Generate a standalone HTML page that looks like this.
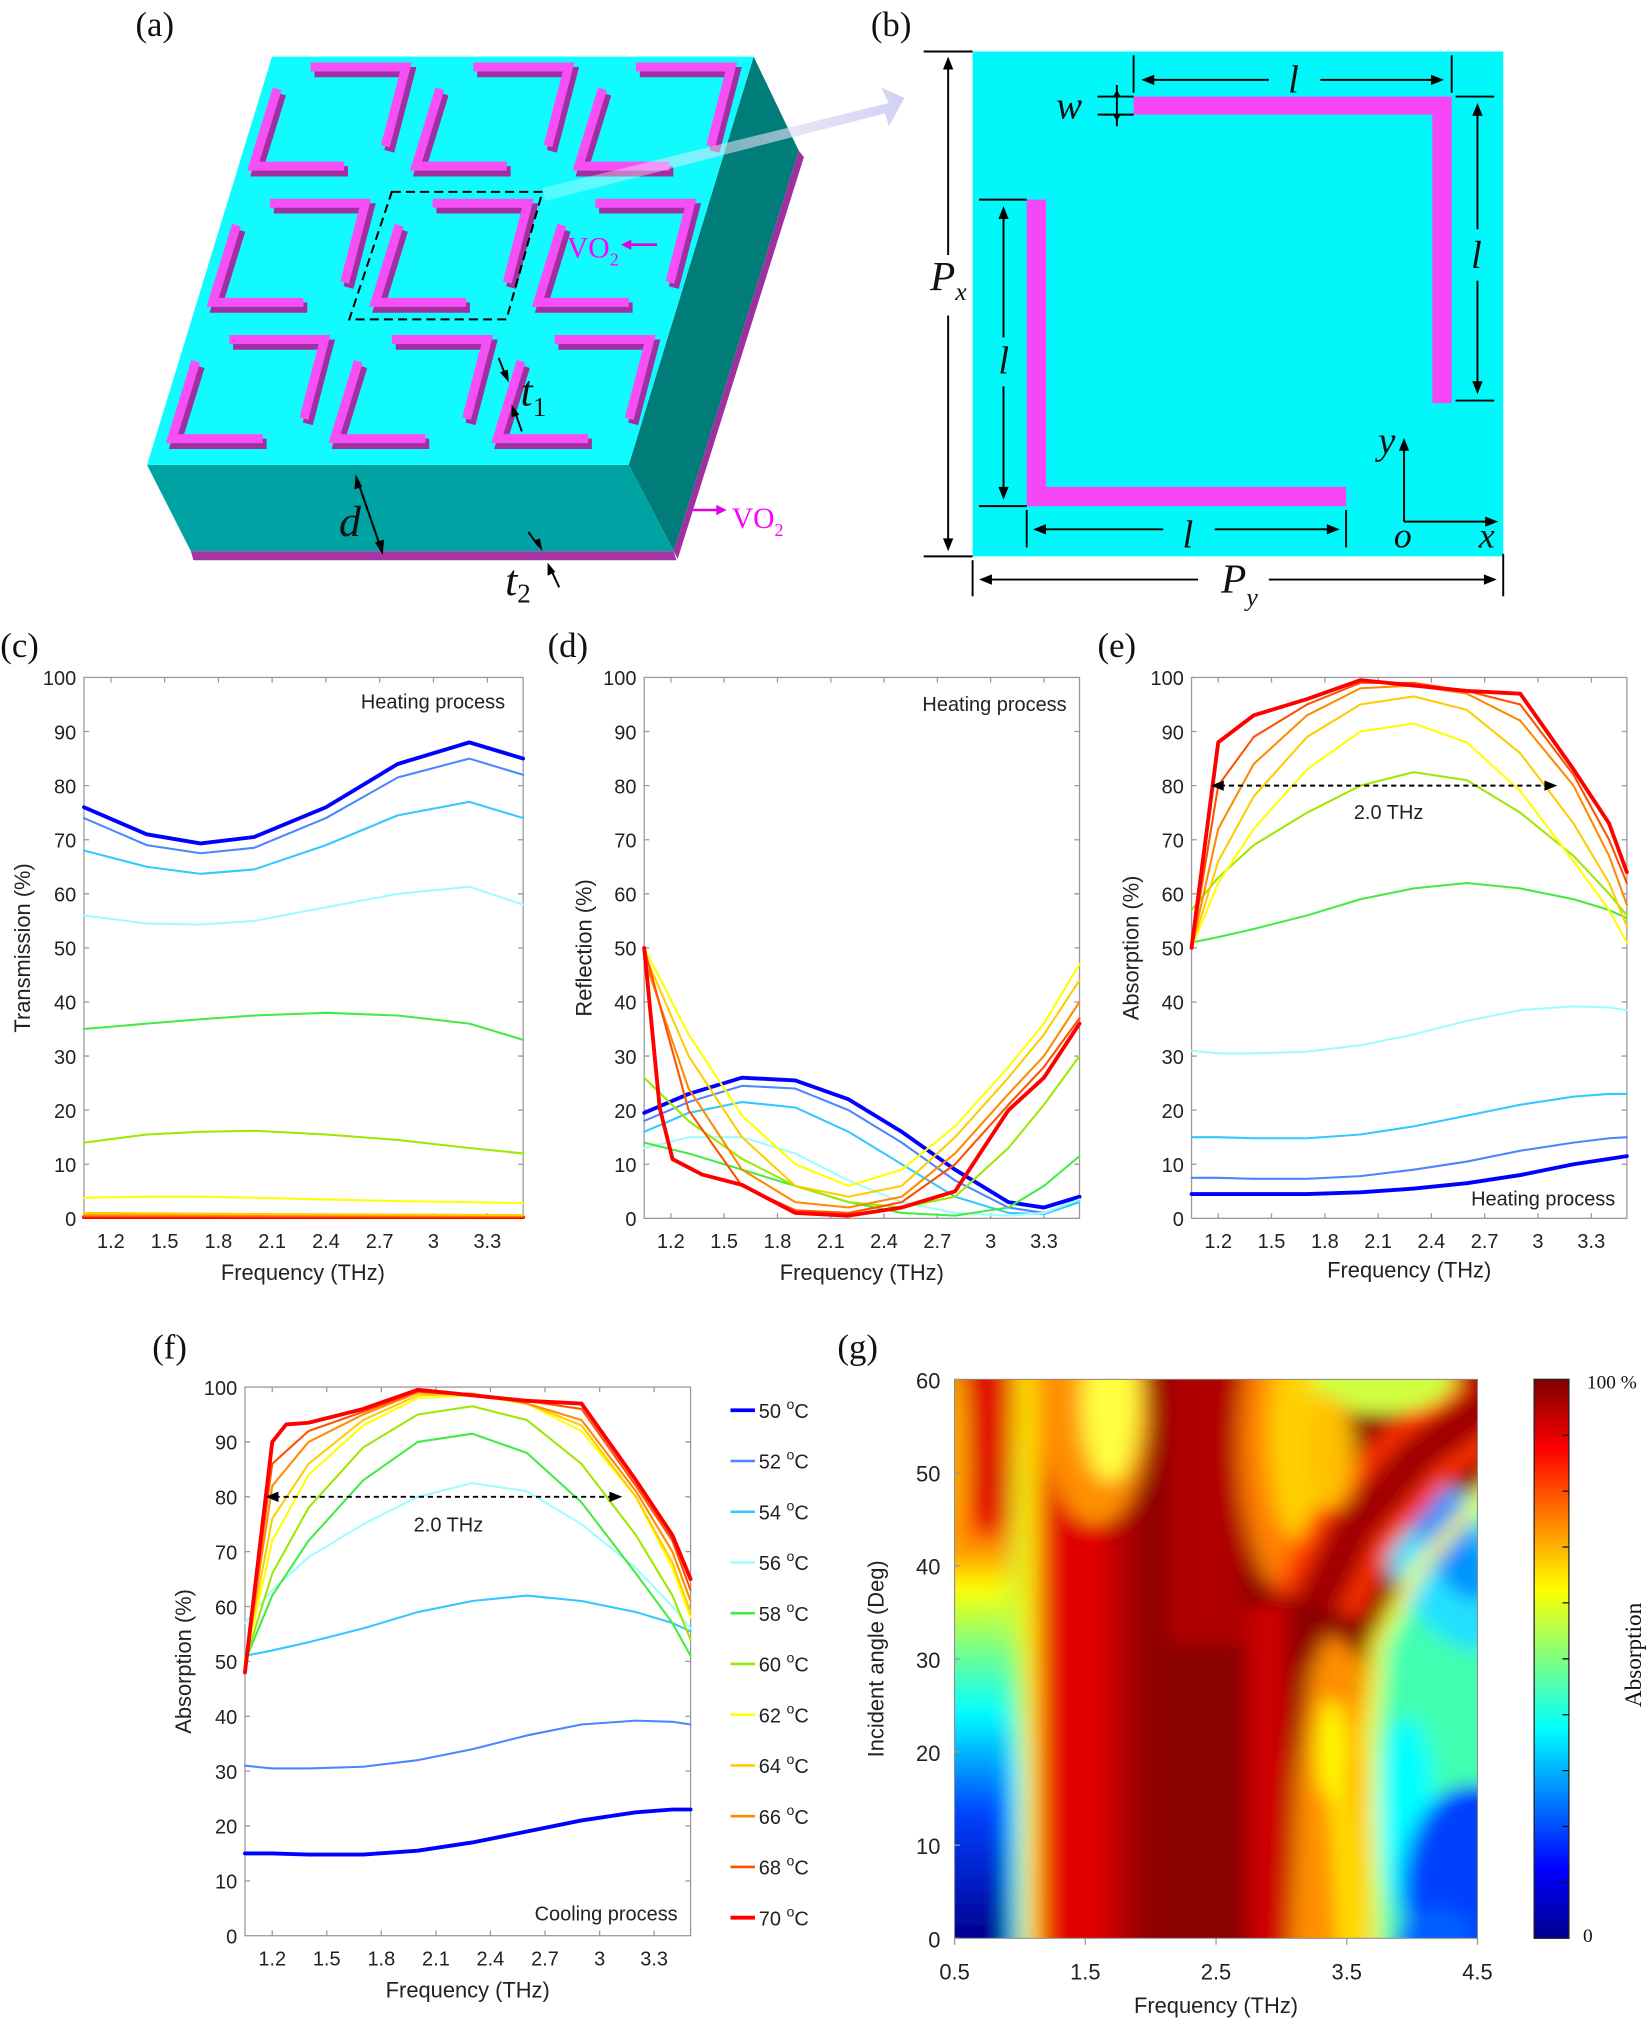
<!DOCTYPE html>
<html><head><meta charset="utf-8"><style>
html,body{margin:0;padding:0;background:#fff}
svg{display:block}
.t{font-family:"Liberation Sans",sans-serif;font-size:15.5px;fill:#222}
.lab{font-family:"Liberation Sans",sans-serif;font-size:17px;fill:#222}
.pl{font-family:"Liberation Serif",serif;font-size:27px;fill:#111}
.it{font-family:"Liberation Serif",serif;font-style:italic;fill:#111}
.ax{fill:#fff;stroke:#999;stroke-width:1}
.tk{stroke:#999;stroke-width:1;fill:none}
.ln{fill:none;stroke-linejoin:round;stroke-linecap:round}
</style></head><body>
<svg xmlns="http://www.w3.org/2000/svg" xmlns:xlink="http://www.w3.org/1999/xlink" width="1649" height="2022" viewBox="0 0 1280 1570">
<defs>
<linearGradient id="jet" x1="0" y1="1" x2="0" y2="0">
<stop offset="0" stop-color="#00008f"/><stop offset="0.125" stop-color="#0000ff"/><stop offset="0.375" stop-color="#00ffff"/><stop offset="0.625" stop-color="#ffff00"/><stop offset="0.875" stop-color="#ff0000"/><stop offset="1" stop-color="#800000"/>
</linearGradient>
<linearGradient id="leftcol" gradientUnits="userSpaceOnUse" x1="0" y1="45" x2="0" y2="1520">
<stop offset="0" stop-color="#d00000"/><stop offset="0.24" stop-color="#ff3000"/><stop offset="0.32" stop-color="#ffa000"/><stop offset="0.38" stop-color="#ffff00"/><stop offset="0.48" stop-color="#80ff80"/><stop offset="0.6" stop-color="#00ffff"/><stop offset="0.78" stop-color="#0040ff"/><stop offset="1" stop-color="#00008f"/>
</linearGradient>
<linearGradient id="strip" gradientUnits="userSpaceOnUse" x1="0" y1="45" x2="0" y2="1520">
<stop offset="0" stop-color="#ffb000"/><stop offset="0.45" stop-color="#c0ff40"/><stop offset="0.7" stop-color="#00ffff"/><stop offset="1" stop-color="#00e0ff"/>
</linearGradient>
<linearGradient id="arr" x1="0" y1="0" x2="1" y2="0">
<stop offset="0" stop-color="#ffffff" stop-opacity="0.3"/><stop offset="1" stop-color="#c8c8f0"/>
</linearGradient>
<filter id="bl" filterUnits="userSpaceOnUse" x="-300" y="-300" width="1900" height="2300"><feGaussianBlur stdDeviation="22"/></filter>
<clipPath id="hc"><rect x="115" y="60" width="1093" height="1460"/></clipPath>
<g id="L">
<path d="M241,52 L315,52 L299,113.5 M215,69 L196.5,129 L267,129" fill="none" stroke="#a030a0" stroke-width="8" transform="translate(3,4)"/>
<path d="M241,52 L315,52 L299,113.5 M215,69 L196.5,129 L267,129" fill="none" stroke="#f64ff6" stroke-width="7"/>
</g>
</defs>

<!-- Panel labels -->
<text class="pl" x="105" y="28">(a)</text>
<text class="pl" x="676" y="28">(b)</text>
<text class="pl" x="0" y="510">(c)</text>
<text class="pl" x="425" y="510">(d)</text>
<text class="pl" x="852" y="510">(e)</text>
<text class="pl" x="118" y="1055">(f)</text>
<text class="pl" x="650" y="1055">(g)</text>

<!-- Panel a -->
<polygon points="585,44 620,117 523,428 488,361" fill="#007d78"/>
<polygon points="620,117 624,122 526,434 523,428" fill="#a030a0"/>
<polygon points="114,361 488,361 523,428 148,428" fill="#00a3a3"/>
<polygon points="148,428 523,428 525,435 150,435" fill="#a636a6"/>
<polygon points="211,44 585,44 488,361 114,361" fill="#11fbff"/>
<use xlink:href="#L"/>
<use xlink:href="#L" transform="translate(126.3,0)"/>
<use xlink:href="#L" transform="translate(252.6,0)"/>
<use xlink:href="#L" transform="translate(-31.6,105.8)"/>
<use xlink:href="#L" transform="translate(94.7,105.8)"/>
<use xlink:href="#L" transform="translate(221,105.8)"/>
<use xlink:href="#L" transform="translate(-63.2,211.6)"/>
<use xlink:href="#L" transform="translate(63.1,211.6)"/>
<use xlink:href="#L" transform="translate(189.4,211.6)"/>
<polygon points="304,149 421,149 393,248 271,248" fill="none" stroke="#000" stroke-width="1.6" stroke-dasharray="7,4"/>
<polygon points="421,146 690,80 684,68 702,76 690,98 687,88 423,156" fill="url(#arr)" opacity="0.85"/>
<text x="440" y="200" font-family="Liberation Serif,serif" font-size="23" fill="#ff00ff">VO<tspan font-size="14" dy="6">2</tspan></text>
<line x1="510" y1="190" x2="488" y2="190" stroke="#e000e0" stroke-width="2"/><polygon points="482,190 490,186 490,194" fill="#e000e0"/>
<line x1="537" y1="396" x2="558" y2="396" stroke="#e000e0" stroke-width="2"/><polygon points="564,396 556,392 556,400" fill="#e000e0"/>
<text x="568" y="410" font-family="Liberation Serif,serif" font-size="23" fill="#ff00ff">VO<tspan font-size="14" dy="6">2</tspan></text>
<text class="it" x="263" y="416" font-size="34">d</text>
<line x1="277" y1="372" x2="296" y2="427" stroke="#000" stroke-width="1.6"/>
<polygon points="276,368 275,380 281,378" fill="#000"/><polygon points="297,431 291,421 298,419" fill="#000"/>
<text class="it" x="392" y="462" font-size="34">t<tspan font-size="21" font-style="normal" dy="6">2</tspan></text>
<line x1="410" y1="413" x2="418" y2="424" stroke="#000" stroke-width="1.5"/><polygon points="421,428 414,420 419,418" fill="#000"/>
<line x1="434" y1="456" x2="427" y2="441" stroke="#000" stroke-width="1.5"/><polygon points="425,437 425,447 431,444" fill="#000"/>
<text class="it" x="404" y="315" font-size="34">t<tspan font-size="21" font-style="normal" dy="8">1</tspan></text>
<line x1="387" y1="278" x2="393" y2="293" stroke="#000" stroke-width="1.5"/><polygon points="395,297 388,289 394,287" fill="#000"/>
<line x1="405" y1="335" x2="399" y2="318" stroke="#000" stroke-width="1.5"/><polygon points="397,314 397,324 403,322" fill="#000"/>

<!-- Panel b -->
<g stroke="#000" stroke-width="1.5">
<rect x="755" y="40" width="412" height="392" fill="#00f8fb" stroke="none"/>
<path d="M880,75 H1127 V313 H1112 V89 H880 Z" fill="#f547f5" stroke="none"/>
<path d="M797,155 H812 V378 H1045 V393 H797 Z" fill="#f547f5" stroke="none"/>
<line x1="717" y1="40" x2="755" y2="40"/><line x1="717" y1="432" x2="755" y2="432"/>
<line x1="736" y1="50" x2="736" y2="198"/><line x1="736" y1="245" x2="736" y2="422"/>
<line x1="755" y1="435" x2="755" y2="463"/><line x1="1167" y1="430" x2="1167" y2="463"/>
<line x1="765" y1="450" x2="930" y2="450"/><line x1="985" y1="450" x2="1158" y2="450"/>
<line x1="880" y1="43" x2="880" y2="72"/><line x1="1127" y1="43" x2="1127" y2="72"/>
<line x1="892" y1="62" x2="985" y2="62"/><line x1="1025" y1="62" x2="1115" y2="62"/>
<line x1="1130" y1="75" x2="1160" y2="75"/><line x1="1130" y1="311" x2="1160" y2="311"/>
<line x1="1147" y1="85" x2="1147" y2="178"/><line x1="1147" y1="218" x2="1147" y2="300"/>
<line x1="760" y1="155" x2="797" y2="155"/><line x1="760" y1="393" x2="797" y2="393"/>
<line x1="779" y1="165" x2="779" y2="262"/><line x1="779" y1="300" x2="779" y2="383"/>
<line x1="797" y1="396" x2="797" y2="425"/><line x1="1045" y1="396" x2="1045" y2="425"/>
<line x1="808" y1="411" x2="903" y2="411"/><line x1="943" y1="411" x2="1035" y2="411"/>
<line x1="852" y1="75" x2="880" y2="75"/><line x1="852" y1="89" x2="880" y2="89"/>
<line x1="867" y1="66" x2="867" y2="98"/>
<line x1="1090" y1="405" x2="1090" y2="345"/><line x1="1090" y1="405" x2="1158" y2="405"/>
</g>
<g fill="#000">
<polygon points="736,44 732,54 740,54"/><polygon points="736,428 732,418 740,418"/>
<polygon points="760,450 770,446 770,454"/><polygon points="1162,450 1152,446 1152,454"/>
<polygon points="886,62 896,58 896,66"/><polygon points="1121,62 1111,58 1111,66"/>
<polygon points="1147,80 1143,90 1151,90"/><polygon points="1147,306 1143,296 1151,296"/>
<polygon points="779,160 775,170 783,170"/><polygon points="779,388 775,378 783,378"/>
<polygon points="802,411 812,407 812,415"/><polygon points="1040,411 1030,407 1030,415"/>
<polygon points="867,70 864,75 870,75"/><polygon points="867,94 864,89 870,89"/>
<polygon points="1090,340 1086,350 1094,350"/><polygon points="1163,405 1153,401 1153,409"/>
</g>
<text class="it" x="1000" y="72" font-size="30">l</text>
<text class="it" x="1142" y="208" font-size="30">l</text>
<text class="it" x="775" y="290" font-size="30">l</text>
<text class="it" x="918" y="425" font-size="30">l</text>
<text class="it" x="820" y="92" font-size="30">w</text>
<text class="it" x="722" y="225" font-size="32">P<tspan font-size="20" dy="8">x</tspan></text>
<text class="it" x="948" y="460" font-size="32">P<tspan font-size="20" dy="10">y</tspan></text>
<text class="it" x="1070" y="352" font-size="30">y</text>
<text class="it" x="1082" y="425" font-size="28">o</text>
<text class="it" x="1148" y="425" font-size="28">x</text>

<!-- Chart c -->
<rect class="ax" x="65" y="526" width="341" height="420"/>
<path class="tk" d="M65,946h4M65,904h4M65,862h4M65,820h4M65,778h4M65,736h4M65,694h4M65,652h4M65,610h4M65,568h4M406,904h-4M406,862h-4M406,820h-4M406,778h-4M406,736h-4M406,694h-4M406,652h-4M406,610h-4M406,568h-4M85.9,946v-4M127.6,946v-4M169.4,946v-4M211.1,946v-4M252.9,946v-4M294.6,946v-4M336.4,946v-4M378.2,946v-4M85.9,526v4M127.6,526v4M169.4,526v4M211.1,526v4M252.9,526v4M294.6,526v4M336.4,526v4M378.2,526v4"/>
<g class="t" text-anchor="end"><text x="59" y="952">0</text><text x="59" y="910">10</text><text x="59" y="868">20</text><text x="59" y="826">30</text><text x="59" y="784">40</text><text x="59" y="742">50</text><text x="59" y="700">60</text><text x="59" y="658">70</text><text x="59" y="616">80</text><text x="59" y="574">90</text><text x="59" y="532">100</text></g>
<g class="t" text-anchor="middle"><text x="85.9" y="969">1.2</text><text x="127.6" y="969">1.5</text><text x="169.4" y="969">1.8</text><text x="211.1" y="969">2.1</text><text x="252.9" y="969">2.4</text><text x="294.6" y="969">2.7</text><text x="336.4" y="969">3</text><text x="378.2" y="969">3.3</text></g>
<text class="lab" x="235" y="994" text-anchor="middle">Frequency (THz)</text>
<text class="lab" transform="translate(23,736) rotate(-90)" text-anchor="middle">Transmission (%)</text>
<text class="t" x="392" y="550" text-anchor="end">Heating process</text>
<g class="ln" stroke-width="1.6">
<polyline stroke="#ff0000" stroke-width="3" points="65,945 406,945"/>
<polyline stroke="#ff5000" points="65,944.4 406,944.7"/>
<polyline stroke="#ff8a00" points="65,943.5 406,944"/>
<polyline stroke="#ffcc00" points="65,941.8 197,942.6 406,943.5"/>
<polyline stroke="#ffff00" points="65,930 113.7,929.2 155.5,929.2 197.2,930 252.9,931.3 308.6,932.6 364.2,933.4 406,934.2"/>
<polyline stroke="#9ee800" points="65,887.2 113.7,880.9 155.5,878.8 197.2,878 252.9,880.9 308.6,885.1 364.2,891.4 406,895.6"/>
<polyline stroke="#44ea44" points="65,799 113.7,794.8 155.5,791.4 197.2,788.5 252.9,786.4 308.6,788.5 364.2,794.8 406,807.4"/>
<polyline stroke="#9ffcff" points="65,710.8 113.7,717.1 155.5,717.9 197.2,715 252.9,704.5 308.6,694 364.2,688.5 406,702.4"/>
<polyline stroke="#33c8ff" points="65,660.4 113.7,673 155.5,678.5 197.2,675.1 252.9,656.2 308.6,633.1 364.2,622.6 406,635.2"/>
<polyline stroke="#4a86ff" points="65,635.2 113.7,656.2 155.5,662.5 197.2,658.3 252.9,635.2 308.6,603.7 364.2,589 406,601.6"/>
<polyline stroke="#0000ff" stroke-width="3" points="65,626.8 113.7,647.8 155.5,654.9 197.2,649.9 252.9,626.8 308.6,593.2 364.2,576.4 406,589"/>
</g>

<!-- Chart d -->
<rect class="ax" x="500" y="526" width="338" height="420"/>
<path class="tk" d="M500,904h4M500,862h4M500,820h4M500,778h4M500,736h4M500,694h4M500,652h4M500,610h4M500,568h4M838,904h-4M838,862h-4M838,820h-4M838,778h-4M838,736h-4M838,694h-4M838,652h-4M838,610h-4M838,568h-4M520.7,946v-4M562.1,946v-4M603.5,946v-4M644.9,946v-4M686.2,946v-4M727.6,946v-4M769,946v-4M810.4,946v-4M520.7,526v4M562.1,526v4M603.5,526v4M644.9,526v4M686.2,526v4M727.6,526v4M769,526v4M810.4,526v4"/>
<g class="t" text-anchor="end"><text x="494" y="952">0</text><text x="494" y="910">10</text><text x="494" y="868">20</text><text x="494" y="826">30</text><text x="494" y="784">40</text><text x="494" y="742">50</text><text x="494" y="700">60</text><text x="494" y="658">70</text><text x="494" y="616">80</text><text x="494" y="574">90</text><text x="494" y="532">100</text></g>
<g class="t" text-anchor="middle"><text x="520.7" y="969">1.2</text><text x="562.1" y="969">1.5</text><text x="603.5" y="969">1.8</text><text x="644.9" y="969">2.1</text><text x="686.2" y="969">2.4</text><text x="727.6" y="969">2.7</text><text x="769" y="969">3</text><text x="810.4" y="969">3.3</text></g>
<text class="lab" x="669" y="994" text-anchor="middle">Frequency (THz)</text>
<text class="lab" transform="translate(459,736) rotate(-90)" text-anchor="middle">Reflection (%)</text>
<text class="t" x="828" y="552" text-anchor="end">Heating process</text>
<g class="ln" stroke-width="1.6">
<polyline stroke="#0000ff" stroke-width="3" points="500,864.1 534.5,849.4 575.9,836.8 617.3,838.9 658.7,853.6 700,878.8 741.4,908.2 782.8,933.4 810.4,937.6 838,929.2"/>
<polyline stroke="#4a86ff" points="500,870.4 534.5,855.7 575.9,843.1 617.3,845.2 658.7,862 700,887.2 741.4,916.6 782.8,937.6 810.4,941.8 838,931.3"/>
<polyline stroke="#33c8ff" points="500,878.8 534.5,864.1 575.9,855.7 617.3,859.9 658.7,878.8 700,904 741.4,929.2 782.8,941.8 810.4,942.6 838,933.4"/>
<polyline stroke="#9ffcff" points="500,891.4 534.5,883 575.9,883 617.3,895.6 658.7,916.6 700,933.4 741.4,941.8 782.8,943.9 810.4,941.8 838,931.3"/>
<polyline stroke="#44ea44" points="500,887.2 534.5,895.6 575.9,908.2 617.3,920.8 658.7,933.4 700,941.8 741.4,943.9 782.8,937.6 810.4,920.8 838,897.7"/>
<polyline stroke="#9ee800" points="500,836.8 534.5,870.4 575.9,899.8 617.3,920.8 658.7,933.4 700,937.6 741.4,929.2 782.8,891.4 810.4,857.8 838,820"/>
<polyline stroke="#ffff00" points="500,736 534.5,803.2 575.9,866.2 617.3,904 658.7,920.8 700,908.2 741.4,874.6 782.8,828.4 810.4,794.8 838,748.6"/>
<polyline stroke="#ffcc00" points="500,740.2 534.5,820 575.9,883 617.3,920.8 658.7,929.2 700,920.8 741.4,883 782.8,836.8 810.4,803.2 838,761.2"/>
<polyline stroke="#ff8a00" points="500,744.4 534.5,845.2 575.9,908.2 617.3,933.4 658.7,937.6 700,929.2 741.4,895.6 782.8,849.4 810.4,820 838,778"/>
<polyline stroke="#ff5000" points="500,736 534.5,862 575.9,920.8 617.3,939.7 658.7,941.8 700,933.4 741.4,904 782.8,857.8 810.4,828.4 838,790.6"/>
<polyline stroke="#ff0000" stroke-width="3" points="500,736 512,860 522,900 545,912 575.9,920 617.3,941.8 658.7,943.9 700,937.6 741.4,925 782.8,862 810.4,836.8 838,794.8"/>
</g>

<!-- Chart e -->
<rect class="ax" x="925" y="526" width="338" height="420"/>
<path class="tk" d="M925,904h4M925,862h4M925,820h4M925,778h4M925,736h4M925,694h4M925,652h4M925,610h4M925,568h4M1263,904h-4M1263,862h-4M1263,820h-4M1263,778h-4M1263,736h-4M1263,694h-4M1263,652h-4M1263,610h-4M1263,568h-4M945.7,946v-4M987.1,946v-4M1028.5,946v-4M1069.9,946v-4M1111.2,946v-4M1152.6,946v-4M1194,946v-4M1235.4,946v-4M945.7,526v4M987.1,526v4M1028.5,526v4M1069.9,526v4M1111.2,526v4M1152.6,526v4M1194,526v4M1235.4,526v4"/>
<g class="t" text-anchor="end"><text x="919" y="952">0</text><text x="919" y="910">10</text><text x="919" y="868">20</text><text x="919" y="826">30</text><text x="919" y="784">40</text><text x="919" y="742">50</text><text x="919" y="700">60</text><text x="919" y="658">70</text><text x="919" y="616">80</text><text x="919" y="574">90</text><text x="919" y="532">100</text></g>
<g class="t" text-anchor="middle"><text x="945.7" y="969">1.2</text><text x="987.1" y="969">1.5</text><text x="1028.5" y="969">1.8</text><text x="1069.9" y="969">2.1</text><text x="1111.2" y="969">2.4</text><text x="1152.6" y="969">2.7</text><text x="1194" y="969">3</text><text x="1235.4" y="969">3.3</text></g>
<text class="lab" x="1094" y="992" text-anchor="middle">Frequency (THz)</text>
<text class="lab" transform="translate(884,736) rotate(-90)" text-anchor="middle">Absorption (%)</text>
<text class="t" x="1254" y="936" text-anchor="end">Heating process</text>
<g class="ln" stroke-width="1.6">
<polyline stroke="#0000ff" stroke-width="3" points="925,927.1 945.7,927.1 973.3,927.1 1014.7,927.1 1056.1,925.8 1097.5,922.9 1138.8,918.7 1180.2,912.4 1221.6,904 1249.2,899.8 1263,897.7"/>
<polyline stroke="#4a86ff" points="925,914.5 945.7,914.5 973.3,915.3 1014.7,915.3 1056.1,913.2 1097.5,908.2 1138.8,901.9 1180.2,893.5 1221.6,887.2 1249.2,883.8 1263,883"/>
<polyline stroke="#33c8ff" points="925,883 945.7,883 973.3,883.8 1014.7,883.8 1056.1,880.9 1097.5,874.6 1138.8,866.2 1180.2,857.8 1221.6,851.5 1249.2,849.4 1263,849.4"/>
<polyline stroke="#9ffcff" points="925,815.8 945.7,817.9 973.3,817.9 1014.7,816.6 1056.1,811.6 1097.5,803.2 1138.8,792.7 1180.2,784.3 1221.6,781.4 1249.2,782.2 1263,784.3"/>
<polyline stroke="#44ea44" points="925,731.8 945.7,727.6 973.3,721.3 1014.7,710.8 1056.1,698.2 1097.5,689.8 1138.8,685.6 1180.2,689.8 1221.6,698.2 1249.2,706.6 1263,712.9"/>
<polyline stroke="#9ee800" points="925,706.6 945.7,681.4 973.3,656.2 1014.7,631 1056.1,610 1097.5,599.5 1138.8,605.8 1180.2,631 1221.6,664.6 1249.2,694 1263,710.8"/>
<polyline stroke="#ffff00" points="925,736 945.7,685.6 973.3,643.6 1014.7,597.4 1056.1,568 1097.5,561.7 1138.8,576.4 1180.2,614.2 1221.6,668.8 1249.2,706.6 1263,731.8"/>
<polyline stroke="#ffcc00" points="925,736 945.7,668.8 973.3,618.4 1014.7,572.2 1056.1,547 1097.5,540.7 1138.8,551.2 1180.2,584.8 1221.6,639.4 1249.2,685.6 1263,719.2"/>
<polyline stroke="#ff8a00" points="925,736 945.7,643.6 973.3,593.2 1014.7,555.4 1056.1,534.4 1097.5,532.3 1138.8,538.6 1180.2,559.6 1221.6,610 1249.2,664.6 1263,702.4"/>
<polyline stroke="#ff5000" points="925,736 945.7,610 973.3,572.2 1014.7,547 1056.1,530.2 1097.5,530.2 1138.8,536.5 1180.2,547 1221.6,601.6 1249.2,652 1263,685.6"/>
<polyline stroke="#ff0000" stroke-width="3" points="925,736 945.7,576.4 973.3,555.4 1014.7,542.8 1056.1,528.1 1097.5,532.3 1138.8,536.5 1180.2,538.6 1221.6,597.4 1249.2,639.4 1263,677.2"/>
</g>
<line x1="947" y1="610" x2="1202" y2="610" stroke="#000" stroke-width="1.5" stroke-dasharray="4,3"/>
<polygon points="940,610 950,606 950,614" fill="#000"/><polygon points="1209,610 1199,606 1199,614" fill="#000"/>
<text class="t" x="1078" y="636" text-anchor="middle">2.0 THz</text>

<!-- Chart f -->
<rect class="ax" x="190" y="1077" width="346" height="426"/>
<path class="tk" d="M190,1460.4h4M190,1417.8h4M190,1375.2h4M190,1332.6h4M190,1290h4M190,1247.4h4M190,1204.8h4M190,1162.2h4M190,1119.6h4M536,1460.4h-4M536,1417.8h-4M536,1375.2h-4M536,1332.6h-4M536,1290h-4M536,1247.4h-4M536,1204.8h-4M536,1162.2h-4M536,1119.6h-4M211.2,1503v-4M253.5,1503v-4M295.9,1503v-4M338.3,1503v-4M380.6,1503v-4M423,1503v-4M465.4,1503v-4M507.7,1503v-4M211.2,1077v4M253.5,1077v4M295.9,1077v4M338.3,1077v4M380.6,1077v4M423,1077v4M465.4,1077v4M507.7,1077v4"/>
<g class="t" text-anchor="end"><text x="184" y="1509">0</text><text x="184" y="1466.4">10</text><text x="184" y="1423.8">20</text><text x="184" y="1381.2">30</text><text x="184" y="1338.6">40</text><text x="184" y="1296">50</text><text x="184" y="1253.4">60</text><text x="184" y="1210.8">70</text><text x="184" y="1168.2">80</text><text x="184" y="1125.6">90</text><text x="184" y="1083">100</text></g>
<g class="t" text-anchor="middle"><text x="211.2" y="1526">1.2</text><text x="253.5" y="1526">1.5</text><text x="295.9" y="1526">1.8</text><text x="338.3" y="1526">2.1</text><text x="380.6" y="1526">2.4</text><text x="423" y="1526">2.7</text><text x="465.4" y="1526">3</text><text x="507.7" y="1526">3.3</text></g>
<text class="lab" x="363" y="1551" text-anchor="middle">Frequency (THz)</text>
<text class="lab" transform="translate(148,1290) rotate(-90)" text-anchor="middle">Absorption (%)</text>
<text class="t" x="526" y="1491" text-anchor="end">Cooling process</text>
<g class="ln" stroke-width="1.6">
<polyline stroke="#0000ff" stroke-width="3" points="190,1439.1 211.2,1439.1 239.4,1440 281.8,1440 324.2,1437 366.5,1430.6 408.9,1422.1 451.3,1413.5 493.6,1407.2 521.9,1405 536,1405"/>
<polyline stroke="#4a86ff" points="190,1371 211.2,1373.1 239.4,1373.1 281.8,1371.8 324.2,1366.7 366.5,1358.2 408.9,1347.5 451.3,1339 493.6,1336 521.9,1336.9 536,1339"/>
<polyline stroke="#33c8ff" points="190,1285.7 211.2,1281.5 239.4,1275.1 281.8,1264.4 324.2,1251.7 366.5,1243.1 408.9,1238.9 451.3,1243.1 493.6,1251.7 521.9,1260.2 536,1266.6"/>
<polyline stroke="#9ffcff" points="190,1260.2 211.2,1234.6 239.4,1209.1 281.8,1183.5 324.2,1162.2 366.5,1151.6 408.9,1157.9 451.3,1183.5 493.6,1217.6 521.9,1247.4 536,1264.4"/>
<polyline stroke="#44ea44" points="190,1290 211.2,1238.9 239.4,1196.3 281.8,1149.4 324.2,1119.6 366.5,1113.2 408.9,1128.1 451.3,1166.5 493.6,1221.8 521.9,1260.2 536,1285.7"/>
<polyline stroke="#9ee800" points="190,1290 211.2,1221.8 239.4,1170.7 281.8,1123.9 324.2,1098.3 366.5,1091.9 408.9,1102.6 451.3,1136.6 493.6,1192 521.9,1238.9 536,1273"/>
<polyline stroke="#ffff00" points="190,1290 211.2,1196.3 239.4,1145.2 281.8,1106.8 324.2,1085.5 366.5,1083.4 408.9,1089.8 451.3,1111.1 493.6,1162.2 521.9,1217.6 536,1255.9"/>
<polyline stroke="#ffcc00" points="190,1290 211.2,1179.2 239.4,1136.6 281.8,1102.6 324.2,1083.4 366.5,1082.1 408.9,1089.8 451.3,1106.8 493.6,1162.2 521.9,1213.3 536,1251.7"/>
<polyline stroke="#ff8a00" points="190,1294.3 211.2,1153.7 239.4,1119.6 281.8,1098.3 324.2,1081.3 366.5,1082.1 408.9,1089.8 451.3,1102.6 493.6,1157.9 521.9,1204.8 536,1243.1"/>
<polyline stroke="#ff5000" points="190,1294.3 211.2,1136.6 239.4,1111.1 281.8,1096.2 324.2,1080.4 366.5,1083.4 408.9,1087.7 451.3,1094 493.6,1153.7 521.9,1196.3 536,1234.6"/>
<polyline stroke="#ff0000" stroke-width="3" points="190,1298.5 211.2,1119.6 222,1106 239.4,1104.7 281.8,1094 324.2,1079.1 366.5,1083.4 408.9,1087.7 451.3,1089.8 493.6,1149.4 521.9,1192 536,1226.1"/>
</g>
<line x1="213" y1="1162.2" x2="476" y2="1162.2" stroke="#000" stroke-width="1.5" stroke-dasharray="4,3"/>
<polygon points="206,1162.2 216,1158.2 216,1166.2" fill="#000"/><polygon points="483,1162.2 473,1158.2 473,1166.2" fill="#000"/>
<text class="t" x="348" y="1189" text-anchor="middle">2.0 THz</text>

<!-- Legend -->
<g stroke-width="2">
<line x1="567" y1="1095" x2="586" y2="1095" stroke="#0000ff" stroke-width="3"/>
<line x1="567" y1="1134.4" x2="586" y2="1134.4" stroke="#4a86ff"/>
<line x1="567" y1="1173.8" x2="586" y2="1173.8" stroke="#33c8ff"/>
<line x1="567" y1="1213.2" x2="586" y2="1213.2" stroke="#9ffcff"/>
<line x1="567" y1="1252.6" x2="586" y2="1252.6" stroke="#44ea44"/>
<line x1="567" y1="1292" x2="586" y2="1292" stroke="#9ee800"/>
<line x1="567" y1="1331.4" x2="586" y2="1331.4" stroke="#ffff00"/>
<line x1="567" y1="1370.8" x2="586" y2="1370.8" stroke="#ffcc00"/>
<line x1="567" y1="1410.2" x2="586" y2="1410.2" stroke="#ff8a00"/>
<line x1="567" y1="1449.6" x2="586" y2="1449.6" stroke="#ff5000"/>
<line x1="567" y1="1489" x2="586" y2="1489" stroke="#ff0000" stroke-width="3"/>
</g>
<g class="t">
<text x="589" y="1101">50 <tspan dy="-7" font-size="11">o</tspan><tspan dy="7">C</tspan></text>
<text x="589" y="1140.4">52 <tspan dy="-7" font-size="11">o</tspan><tspan dy="7">C</tspan></text>
<text x="589" y="1179.8">54 <tspan dy="-7" font-size="11">o</tspan><tspan dy="7">C</tspan></text>
<text x="589" y="1219.2">56 <tspan dy="-7" font-size="11">o</tspan><tspan dy="7">C</tspan></text>
<text x="589" y="1258.6">58 <tspan dy="-7" font-size="11">o</tspan><tspan dy="7">C</tspan></text>
<text x="589" y="1298">60 <tspan dy="-7" font-size="11">o</tspan><tspan dy="7">C</tspan></text>
<text x="589" y="1337.4">62 <tspan dy="-7" font-size="11">o</tspan><tspan dy="7">C</tspan></text>
<text x="589" y="1376.8">64 <tspan dy="-7" font-size="11">o</tspan><tspan dy="7">C</tspan></text>
<text x="589" y="1416.2">66 <tspan dy="-7" font-size="11">o</tspan><tspan dy="7">C</tspan></text>
<text x="589" y="1455.6">68 <tspan dy="-7" font-size="11">o</tspan><tspan dy="7">C</tspan></text>
<text x="589" y="1495">70 <tspan dy="-7" font-size="11">o</tspan><tspan dy="7">C</tspan></text>
</g>

<!-- Panel g heatmap -->
<g transform="translate(741,1071) scale(0.37145,0.29726) translate(-115,-60)">
<g clip-path="url(#hc)">
<g filter="url(#bl)">
<rect x="-200" y="-200" width="1700" height="2000" fill="#8b0000"/>
<rect x="560" y="-200" width="160" height="950" fill="#b00000"/>
<rect x="290" y="250" width="150" height="1500" fill="#e00000"/>
<rect x="440" y="250" width="60" height="1500" fill="#b00000"/>
<rect x="-200" y="-200" width="436" height="2000" fill="url(#leftcol)"/>
<ellipse cx="112" cy="250" rx="30" ry="260" fill="#ffb000"/>
<ellipse cx="190" cy="200" rx="50" ry="270" fill="#e00000"/>
<rect x="230" y="-200" width="26" height="2000" fill="url(#strip)"/>
<rect x="258" y="-200" width="24" height="2000" fill="#ffff00"/>
<rect x="282" y="-200" width="22" height="2000" fill="#ff8000"/>
<ellipse cx="410" cy="150" rx="110" ry="290" fill="#ff9000"/>
<ellipse cx="440" cy="120" rx="60" ry="210" fill="#ffff40"/>
<rect x="730" y="650" width="80" height="1100" fill="#d00000"/>
<ellipse cx="820" cy="230" rx="110" ry="400" fill="#ff8000"/>
<ellipse cx="830" cy="200" rx="60" ry="280" fill="#ffd000"/>
<polygon points="810,1750 830,1100 860,820 900,720 970,800 970,1750" fill="#ff9000"/>
<path d="M945,1750 C935,1400 925,1150 900,900" stroke="#ffff00" stroke-width="30" fill="none"/>
<ellipse cx="905" cy="1030" rx="30" ry="130" fill="#ffff00"/>
<path d="M990,1750 L975,1100 L990,800 L1050,600 L1150,380 L1400,250 L1400,1750 Z" fill="#40ffb0"/>
<ellipse cx="1060" cy="1200" rx="60" ry="260" fill="#00ffff"/>
<ellipse cx="1200" cy="1400" rx="150" ry="280" fill="#0040ff"/>
<ellipse cx="1120" cy="1520" rx="80" ry="80" fill="#0060ff"/>
<ellipse cx="1130" cy="520" rx="110" ry="260" fill="#20e0ff" transform="rotate(-20 1130 520)"/>
<ellipse cx="1150" cy="470" rx="60" ry="180" fill="#0090ff" transform="rotate(-20 1150 470)"/>
<path d="M990,1750 L980,1000 L1000,750 L1080,560 L1300,250" stroke="#ffff00" stroke-width="30" fill="none"/>
<path d="M870,650 L950,450 L1080,260 L1300,60" stroke="#ff3000" stroke-width="190" fill="none"/>
<path d="M870,650 L950,450 L1080,260 L1300,60" stroke="#a00000" stroke-width="100" fill="none"/>
<ellipse cx="1010" cy="60" rx="150" ry="90" fill="#d0ff40"/>
<ellipse cx="900" cy="250" rx="50" ry="150" fill="#ffc000"/>
<ellipse cx="1240" cy="40" rx="60" ry="90" fill="#a00000"/>
</g></g></g>
<rect x="741" y="1071" width="406" height="434" fill="none" stroke="#888" stroke-width="0.8"/>
<path class="tk" d="M741,1505h4M741,1432.7h4M741,1360.3h4M741,1288h4M741,1215.7h4M741,1143.3h4M741,1071h4M741,1505v5M842.5,1505v5M944,1505v5M1045.5,1505v5M1147,1505v5" stroke="#777"/>
<g class="lab" text-anchor="end" font-size="19"><text x="730" y="1512">0</text><text x="730" y="1439.7">10</text><text x="730" y="1367.3">20</text><text x="730" y="1295">30</text><text x="730" y="1222.7">40</text><text x="730" y="1150.3">50</text><text x="730" y="1078">60</text></g>
<g class="lab" text-anchor="middle" font-size="19"><text x="741" y="1537">0.5</text><text x="842.5" y="1537">1.5</text><text x="944" y="1537">2.5</text><text x="1045.5" y="1537">3.5</text><text x="1147" y="1537">4.5</text></g>
<text class="lab" x="944" y="1563" text-anchor="middle" font-size="20">Frequency (THz)</text>
<text class="lab" transform="translate(686,1288) rotate(-90)" text-anchor="middle" font-size="20">Incident angle (Deg)</text>
<rect x="1191" y="1071" width="27" height="434" fill="url(#jet)" stroke="#222" stroke-width="1"/>
<path d="M1218,1114.4h-5M1218,1157.8h-5M1218,1201.2h-5M1218,1244.6h-5M1218,1288h-5M1218,1331.4h-5M1218,1374.8h-5M1218,1418.2h-5M1218,1461.6h-5" stroke="#111" stroke-width="1"/>
<text x="1232" y="1078" font-family="Liberation Serif,serif" font-size="15" fill="#111">100 %</text>
<text x="1229" y="1508" font-family="Liberation Serif,serif" font-size="15" fill="#111">0</text>
<text transform="translate(1274,1285) rotate(-90)" text-anchor="middle" font-family="Liberation Serif,serif" font-size="18" fill="#111">Absorption</text>
</svg>
</body></html>
